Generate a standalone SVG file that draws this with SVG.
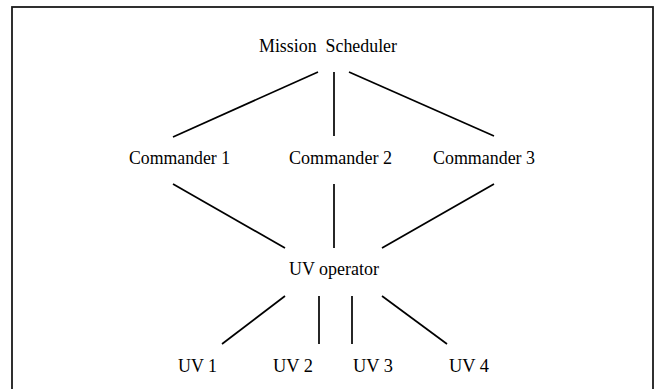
<svg xmlns="http://www.w3.org/2000/svg" width="657" height="389" viewBox="0 0 657 389">
<style>
.lbl{font-family:"Liberation Serif","Times New Roman",serif;font-size:18.5px;fill:#000;white-space:pre}
.edge{stroke:#000;stroke-width:1.7;fill:none}
.frame{fill:#fff;stroke:#1a1a1a;stroke-width:1.8}
</style>
<rect class="frame" x="12" y="7" width="641" height="395"/>
<g id="connectors">
<line class="edge" x1="318" y1="72" x2="173" y2="137"/>
<line class="edge" x1="334" y1="72" x2="334" y2="136"/>
<line class="edge" x1="349" y1="72" x2="494" y2="136"/>
<line class="edge" x1="173" y1="184" x2="285" y2="248"/>
<line class="edge" x1="334" y1="184" x2="334" y2="248"/>
<line class="edge" x1="494" y1="184" x2="382" y2="248"/>
<line class="edge" x1="285" y1="296" x2="222" y2="344"/>
<line class="edge" x1="319" y1="296" x2="319" y2="344"/>
<line class="edge" x1="352" y1="296" x2="352" y2="344"/>
<line class="edge" x1="382" y1="296" x2="447" y2="344"/>
</g>
<g id="mission-scheduler"><text class="lbl" x="259" y="52" textLength="138" lengthAdjust="spacingAndGlyphs" xml:space="preserve">Mission  Scheduler</text></g>
<g id="commander-1"><text class="lbl" x="129" y="164" textLength="101" lengthAdjust="spacingAndGlyphs">Commander 1</text></g>
<g id="commander-2"><text class="lbl" x="289" y="164" textLength="103" lengthAdjust="spacingAndGlyphs">Commander 2</text></g>
<g id="commander-3"><text class="lbl" x="433" y="164" textLength="102" lengthAdjust="spacingAndGlyphs">Commander 3</text></g>
<g id="uv-operator"><text class="lbl" x="289" y="275" textLength="90" lengthAdjust="spacingAndGlyphs">UV operator</text></g>
<g id="uv-1"><text class="lbl" x="178" y="372" textLength="39" lengthAdjust="spacingAndGlyphs">UV 1</text></g>
<g id="uv-2"><text class="lbl" x="273" y="372" textLength="40" lengthAdjust="spacingAndGlyphs">UV 2</text></g>
<g id="uv-3"><text class="lbl" x="353" y="372" textLength="40" lengthAdjust="spacingAndGlyphs">UV 3</text></g>
<g id="uv-4"><text class="lbl" x="449" y="372" textLength="40" lengthAdjust="spacingAndGlyphs">UV 4</text></g>
</svg>
